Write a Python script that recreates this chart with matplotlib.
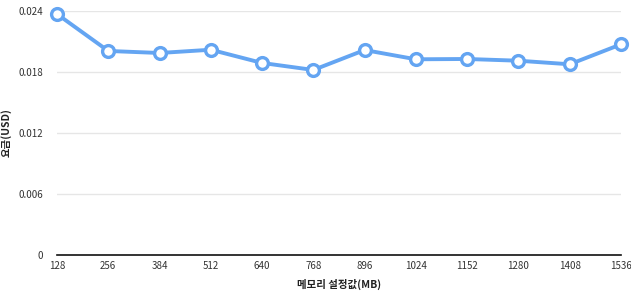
import matplotlib
matplotlib.use("Agg")
import matplotlib.pyplot as plt

plt.rcParams['font.family'] = ['Noto Sans CJK KR', 'DejaVu Sans']

memory = [128, 256, 384, 512, 640, 768, 896, 1024, 1152, 1280, 1408, 1536]
cost = [0.02370, 0.02007, 0.01987, 0.02019, 0.01889, 0.01820,
        0.02016, 0.01925, 0.01928, 0.01911, 0.01876, 0.02072]
yticks = [0, 0.006, 0.012, 0.018, 0.024]
ytick_labels = ['0', '0.006', '0.012', '0.018', '0.024']

fig = plt.figure(figsize=(6.31, 2.92), dpi=100)
ax = fig.add_axes([57/631, 1-255/292, (621-57)/631, (255-11)/292])

ax.plot(memory, cost, color='#64a5f2', lw=2.8, marker='o', markersize=8.5,
        markerfacecolor='white', markeredgecolor='#64a5f2', markeredgewidth=2.4,
        clip_on=False, zorder=3)

ax.set_xlim(128, 1536)
ax.set_ylim(0, 0.024)
ax.set_xticks(memory)
ax.set_xticklabels([str(m) for m in memory])
ax.set_yticks(yticks)
ax.set_yticklabels(ytick_labels)
ax.grid(axis='y', color='#e6e6e6', lw=1)
ax.set_axisbelow(True)
for s in ['top', 'right', 'left']:
    ax.spines[s].set_visible(False)
ax.spines['bottom'].set_color('#111111')
ax.spines['bottom'].set_linewidth(1.2)
ax.tick_params(axis='both', length=0, labelsize=7, colors='#333333')
ax.tick_params(axis='x', pad=4)
ax.tick_params(axis='y', pad=10)
ax.set_xlabel('메모리 설정값(MB)', fontsize=7.5, fontweight='bold', color='#222222', labelpad=6)
ax.set_ylabel('요금(USD)', fontsize=7.5, fontweight='bold', color='#222222', labelpad=5)

fig.savefig('out.png', dpi=100)
